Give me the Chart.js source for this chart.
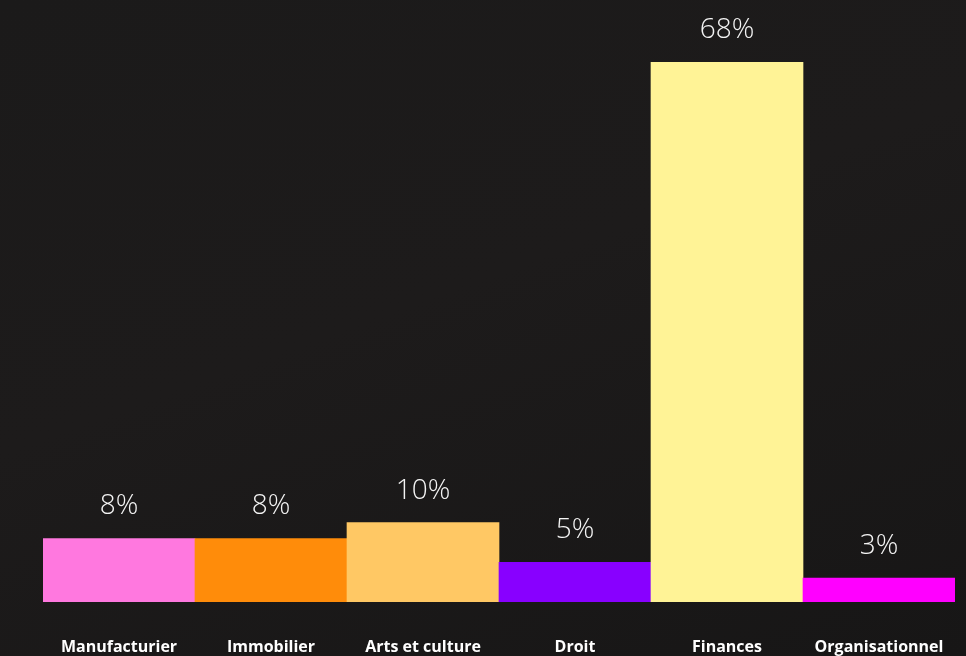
<!DOCTYPE html>
<html>
<head>
<meta charset="utf-8">
<script src="https://cdn.jsdelivr.net/npm/chart.js@4/dist/chart.umd.min.js"></script>
<style>
  html, body { margin: 0; padding: 0; }
  body {
    width: 966px; height: 656px; overflow: hidden;
    background: linear-gradient(160deg, #1b1a1a 0%, #1d1b1b 45%, #171616 100%);
  }
  #wrap { position: relative; width: 966px; height: 656px; }
</style>
</head>
<body>
<div id="wrap"><canvas id="c" width="966" height="656"></canvas></div>
<script>
const categories = ["Manufacturier", "Immobilier", "Arts et culture", "Droit", "Finances", "Organisationnel"];
const values = [8, 8, 10, 5, 68, 3];
const barColors = ["#ff78df", "#ff8c0a", "#ffc864", "#8800ff", "#fff396", "#ff00ff"];

const labelsPlugin = {
  id: 'labelsPlugin',
  afterDatasetsDraw(chart) {
    const ctx = chart.ctx;
    const meta = chart.getDatasetMeta(0);
    const xs = chart.scales.x;
    ctx.save();
    ctx.textAlign = "center";
    ctx.textBaseline = "middle";
    ctx.fillStyle = "#f4f4f4";
    ctx.font = "300 28px 'Open Sans', 'Noto Sans', sans-serif";
    meta.data.forEach((bar, i) => {
      ctx.fillText(values[i] + "%", bar.x, bar.y - 32);
    });
    ctx.fillStyle = "#ffffff";
    ctx.font = "bold 16px 'Open Sans', 'Noto Sans', sans-serif";
    categories.forEach((c, i) => {
      ctx.fillText(c, xs.getPixelForValue(i), chart.chartArea.bottom + 45);
    });
    ctx.restore();
  }
};

new Chart(document.getElementById('c'), {
  type: 'bar',
  data: {
    labels: categories,
    datasets: [{
      data: values,
      backgroundColor: barColors,
      borderWidth: 0,
      barPercentage: 1,
      categoryPercentage: 1
    }]
  },
  options: {
    responsive: false,
    animation: false,
    layout: { padding: { top: 62, left: 43, right: 11, bottom: 54 } },
    plugins: { legend: { display: false }, tooltip: { enabled: false } },
    scales: {
      x: { display: false },
      y: { display: false, min: 0, max: 68 }
    }
  },
  plugins: [labelsPlugin]
});
</script>
</body>
</html>
